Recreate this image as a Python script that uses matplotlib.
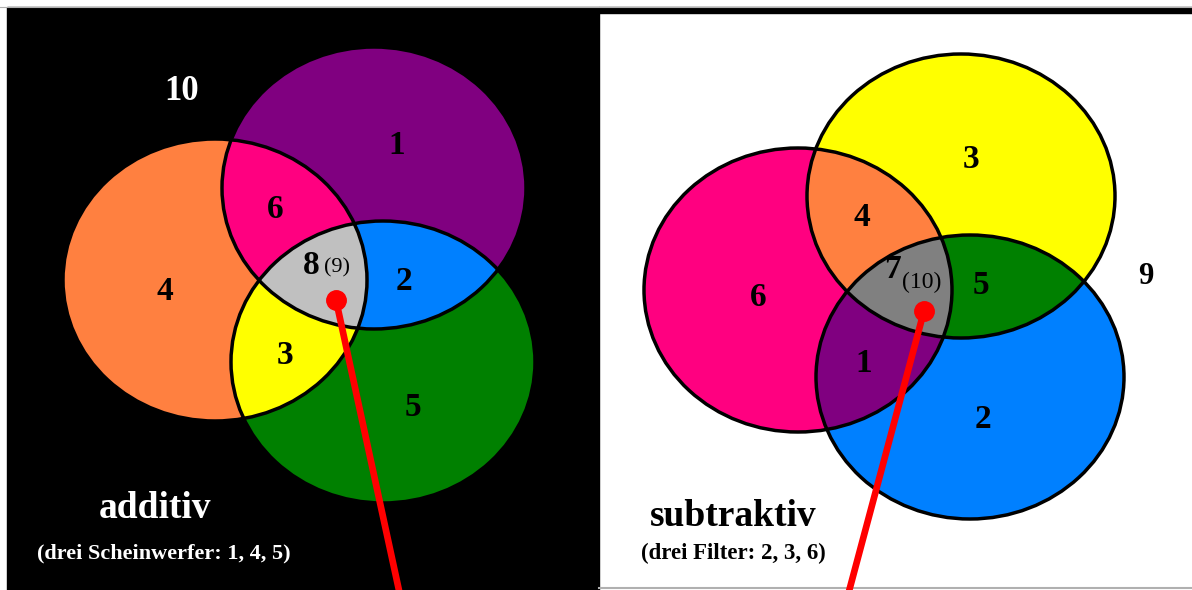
import numpy as np
import matplotlib
matplotlib.use("Agg")
import matplotlib.pyplot as plt
from matplotlib.patches import Ellipse, Rectangle, Polygon

# Ellipsen (Mitte x, Mitte y, Halbachse x, Halbachse y) in Pixeln
add_centers = {"1": (374, 188), "4": (215, 280), "5": (383, 362)}
add_axes = (152, 141)
sub_centers = {"3": (961, 196), "6": (798, 290), "2": (970, 377)}
sub_axes = (154, 142)

add_colors = {"1": "#800080", "4": "#FF8040", "5": "#008000",
              "14": "#FF0080", "15": "#0080FF", "45": "#FFFF00", "145": "#C0C0C0"}
sub_colors = {"3": "#FFFF00", "6": "#FF0080", "2": "#0080FF",
              "36": "#FF8040", "23": "#008000", "26": "#800080", "236": "#808080"}

add_labels = [("1", 397, 145), ("6", 275, 210), ("4", 165, 292), ("2", 404, 281),
              ("3", 285, 355), ("5", 413, 408), ("8", 311, 265)]
sub_labels = [("3", 971, 160), ("4", 862, 218), ("6", 758, 298), ("5", 981, 285),
              ("1", 864, 363), ("2", 983, 420), ("7", 893, 270)]

W, H = 1192, 590


def ell_pts(c, ax, n=1500):
    a = np.linspace(0, 2 * np.pi, n, endpoint=False)
    return np.c_[c[0] + ax[0] * np.cos(a), c[1] + ax[1] * np.sin(a)]


def inside(p, c, ax):
    return ((p[:, 0] - c[0]) / ax[0]) ** 2 + ((p[:, 1] - c[1]) / ax[1]) ** 2 <= 1.0 + 1e-9


def schnitt(cs, ax):
    # Schnitt konvexer Ellipsen: Randpunkte sammeln, nach Winkel sortieren
    pts = []
    for i, c in enumerate(cs):
        p = ell_pts(c, ax)
        m = np.ones(len(p), bool)
        for j, c2 in enumerate(cs):
            if j != i:
                m &= inside(p, c2, ax)
        pts.append(p[m])
    pts = np.vstack(pts)
    m = pts.mean(axis=0)
    ang = np.arctan2(pts[:, 1] - m[1], pts[:, 0] - m[0])
    return pts[np.argsort(ang)]


def venn(ax, centers, axes, colors):
    keys = list(centers.keys())
    for k in keys:
        ax.add_patch(Ellipse(centers[k], 2 * axes[0], 2 * axes[1], color=colors[k], lw=0, zorder=2))
    for i in range(3):
        for j in range(i + 1, 3):
            key = "".join(sorted(keys[i] + keys[j]))
            poly = schnitt([centers[keys[i]], centers[keys[j]]], axes)
            ax.add_patch(Polygon(poly, closed=True, color=colors[key], lw=0, zorder=3))
    key = "".join(sorted("".join(keys)))
    poly = schnitt([centers[k] for k in keys], axes)
    ax.add_patch(Polygon(poly, closed=True, color=colors[key], lw=0, zorder=4))
    for k in keys:
        ax.add_patch(Ellipse(centers[k], 2 * axes[0], 2 * axes[1], fill=False,
                             ec="black", lw=2.5, zorder=5))


fig = plt.figure(figsize=(W / 100, H / 100), dpi=100)
ax = fig.add_axes([0, 0, 1, 1])
ax.set_xlim(0, W)
ax.set_ylim(H, 0)
ax.axis("off")

# Hintergruende
ax.add_patch(Rectangle((7, 7), 592, 590, color="black", zorder=0))
ax.add_patch(Rectangle((599, 7), 600, 6, color="black", zorder=0))
ax.plot([0, W], [6.5, 6.5], color="#b0b0b0", lw=0.8, zorder=0)
ax.plot([599, W], [588, 588], color="#b0b0b0", lw=1.5, zorder=0)

venn(ax, add_centers, add_axes, add_colors)
venn(ax, sub_centers, sub_axes, sub_colors)

serif = "Liberation Serif"
for t, x, y in add_labels + sub_labels:
    ax.text(x, y, t, fontsize=24, fontweight="bold", family=serif, ha="center", va="center", zorder=7)
ax.text(337, 268, "(9)", fontsize=16, family=serif, ha="center", va="center", zorder=7)
ax.text(922, 282, "(10)", fontsize=17, family=serif, ha="center", va="center", zorder=7)
ax.text(182, 92, "10", fontsize=25, fontweight="bold", family=serif, color="white", ha="center", va="center")
ax.text(1146, 276, "9", fontsize=22, fontweight="bold", family=serif, ha="center", va="center")

ax.text(155, 508, "additiv", fontsize=27, fontweight="bold", family=serif, color="white", ha="center", va="center")
ax.text(164, 553, "(drei Scheinwerfer: 1, 4, 5)", fontsize=16, fontweight="bold", family=serif,
        color="white", ha="center", va="center")
ax.text(733, 516, "subtraktiv", fontsize=27, fontweight="bold", family=serif, ha="center", va="center")
ax.text(733, 553, "(drei Filter: 2, 3, 6)", fontsize=16.5, fontweight="bold", family=serif,
        ha="center", va="center")

# rote Zeiger
ax.plot([336, 400], [300, 595], color="red", lw=4.8, solid_capstyle="butt", zorder=8)
ax.plot([336], [300], "o", color="red", ms=14, zorder=8)
ax.plot([924, 848], [311, 595], color="red", lw=4.8, solid_capstyle="butt", zorder=8)
ax.plot([924], [311], "o", color="red", ms=14, zorder=8)

fig.savefig("out.png", dpi=100)
